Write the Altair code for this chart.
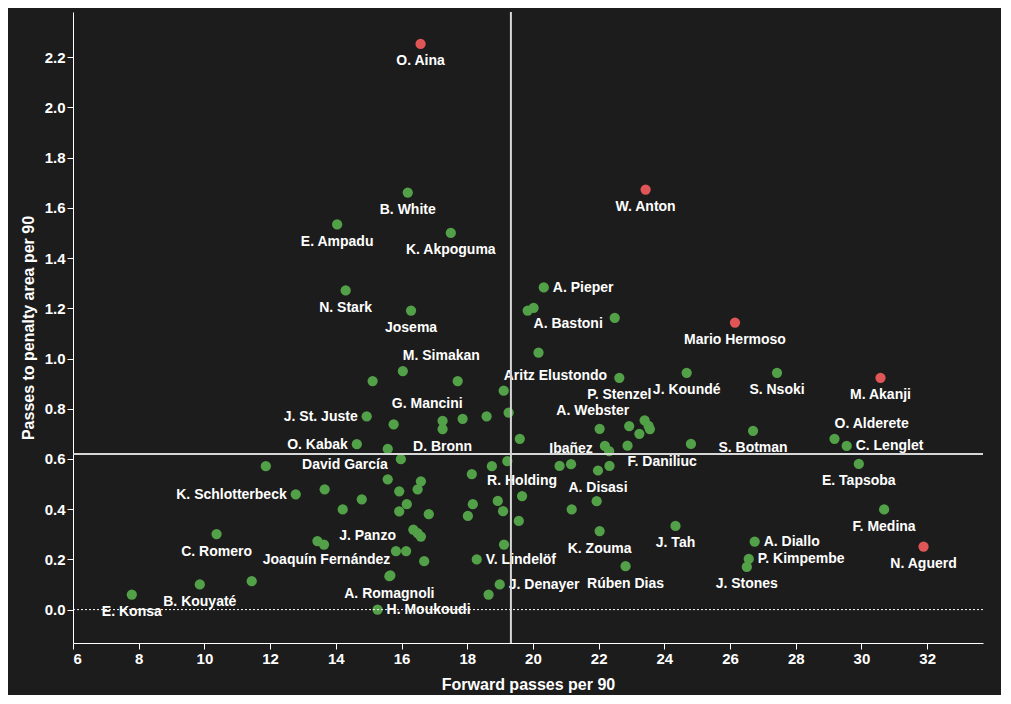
import altair as alt
import pandas as pd

# ---------------- data ----------------
players = [
    "O. Aina", "W. Anton", "Mario Hermoso", "M. Akanji", "N. Aguerd",
    "B. White", "E. Ampadu", "K. Akpoguma", "N. Stark", "Josema",
    "A. Pieper", "", "A. Bastoni", "", "",
    "M. Simakan", "", "", "Aritz Elustondo", "P. Stenzel",
    "J. Koundé", "S. Nsoki", "J. St. Juste", "", "",
    "D. Bronn", "G. Mancini", "", "", "",
    "O. Kabak", "David García", "", "", "K. Schlotterbeck",
    "", "", "", "", "",
    "", "", "", "", "",
    "", "", "", "", "",
    "", "", "R. Holding", "", "",
    "J. Denayer", "", "V. Lindelöf", "C. Romero", "",
    "", "", "", "", "J. Panzo",
    "", "", "B. Kouyaté", "", "E. Konsa",
    "A. Romagnoli", "Joaquín Fernández", "H. Moukoudi", "", "A. Webster",
    "", "", "", "", "F. Daniliuc",
    "", "", "", "", "Ibañez",
    "A. Disasi", "", "S. Botman", "O. Alderete", "C. Lenglet",
    "E. Tapsoba", "F. Medina", "K. Zouma", "J. Tah", "Rúben Dias",
    "A. Diallo", "P. Kimpembe", "J. Stones", "", "",
]

forward_passes = [
    16.58, 23.43, 26.15, 30.58, 31.89,
    16.19, 14.04, 17.50, 14.30, 16.29,
    20.33, 19.84, 20.02, 22.49, 20.17,
    16.04, 15.12, 17.71, 19.11, 22.63,
    24.68, 27.43, 14.94, 15.76, 17.25,
    17.25, 17.86, 18.59, 19.26, 19.60,
    14.64, 15.58, 15.98, 11.87, 12.78,
    13.66, 14.79, 14.21, 15.58, 15.93,
    16.59, 16.49, 16.16, 15.93, 16.83,
    18.14, 18.17, 18.02, 18.75, 18.93,
    19.09, 19.22, 19.67, 19.57, 19.12,
    18.99, 18.65, 18.29, 10.37, 13.44,
    13.64, 16.36, 16.49, 16.59, 15.83,
    16.14, 16.69, 9.86, 11.44, 7.79,
    15.63, 15.66, 15.27, 22.03, 22.93,
    23.40, 23.52, 23.56, 23.24, 22.88,
    24.81, 22.19, 22.32, 20.81, 21.16,
    21.98, 22.33, 26.70, 29.18, 29.55,
    29.92, 30.69, 22.03, 24.34, 22.82,
    26.75, 26.57, 26.51, 21.94, 21.18,
]

penalty_area_passes = [
    2.253, 1.673, 1.143, 0.923, 0.251,
    1.661, 1.534, 1.500, 1.271, 1.191,
    1.283, 1.191, 1.202, 1.162, 1.023,
    0.950, 0.910, 0.910, 0.872, 0.923,
    0.943, 0.943, 0.770, 0.738, 0.752,
    0.719, 0.760, 0.770, 0.784, 0.680,
    0.659, 0.640, 0.599, 0.571, 0.459,
    0.479, 0.439, 0.399, 0.519, 0.471,
    0.511, 0.479, 0.420, 0.391, 0.380,
    0.540, 0.420, 0.373, 0.571, 0.433,
    0.392, 0.591, 0.452, 0.353, 0.259,
    0.100, 0.060, 0.200, 0.301, 0.273,
    0.259, 0.319, 0.305, 0.291, 0.233,
    0.233, 0.193, 0.100, 0.113, 0.060,
    0.133, 0.136, 0.000, 0.720, 0.731,
    0.754, 0.732, 0.719, 0.700, 0.653,
    0.660, 0.652, 0.631, 0.572, 0.579,
    0.554, 0.572, 0.712, 0.680, 0.652,
    0.580, 0.399, 0.313, 0.333, 0.173,
    0.271, 0.202, 0.170, 0.432, 0.399,
]

groups = ["highlight"] * 5 + ["other"] * 95

label_position = [
    "bottom", "bottom", "bottom", "bottom", "bottom",
    "bottom", "bottom", "bottom", "bottom", "bottom",
    "right", "", "bottom-right", "", "",
    "top-right", "", "", "top-right", "bottom",
    "bottom", "bottom", "left", "", "",
    "bottom", "top-left", "", "", "",
    "left", "bottom-left", "", "", "left",
    "", "", "", "", "",
    "", "", "", "", "",
    "", "", "", "", "",
    "", "", "top", "", "",
    "right", "", "right", "bottom", "",
    "", "", "", "", "top-left",
    "", "", "bottom", "", "bottom",
    "bottom", "top-left", "right", "", "top-left",
    "", "", "", "", "bottom-right",
    "", "", "", "", "top",
    "bottom", "", "bottom", "top-right", "right",
    "bottom", "bottom", "bottom", "bottom", "bottom",
    "right", "right", "bottom", "", "",
]

mean_forward = [19.33]
mean_penalty = [0.62]
zero_line = [0.0]
x_ticks = [6, 8, 10, 12, 14, 16, 18, 20, 22, 24, 26, 28, 30, 32]
y_ticks = [0.0, 0.2, 0.4, 0.6, 0.8, 1.0, 1.2, 1.4, 1.6, 1.8, 2.0, 2.2]

# ---------------- styling ----------------
BG = "#1c1c1c"
GREEN = "#52a047"
RED = "#e05656"
WHITE = "#ffffff"
FONT = "Liberation Sans"

df = pd.DataFrame({
    "player": players,
    "fwd": forward_passes,
    "ppa": penalty_area_passes,
    "grp": groups,
    "pos": label_position,
})

x_scale = alt.Scale(domain=[6, 33.7], nice=False, zero=False)
y_scale = alt.Scale(domain=[-0.133, 2.38], nice=False, zero=False)

x_enc = alt.X("fwd:Q", scale=x_scale,
              axis=alt.Axis(values=x_ticks, title="Forward passes per 90",
                            format="d"))
y_enc = alt.Y("ppa:Q", scale=y_scale,
              axis=alt.Axis(values=y_ticks, format=".1f",
                            title="Passes to penalty area per 90"))

base = alt.Chart(df)

points = base.mark_circle(size=105, opacity=1).encode(
    x=x_enc,
    y=y_enc,
    color=alt.Color("grp:N",
                    scale=alt.Scale(domain=["highlight", "other"], range=[RED, GREEN]),
                    legend=None),
)

anchors = {
    "bottom": dict(align="center", dx=0, dy=17.5),
    "top": dict(align="center", dx=0, dy=-15.5),
    "left": dict(align="right", dx=-9, dy=0.5),
    "right": dict(align="left", dx=9, dy=0.5),
    "top-right": dict(align="left", dx=0, dy=-15),
    "top-left": dict(align="right", dx=0, dy=-15),
    "bottom-right": dict(align="left", dx=0, dy=16),
    "bottom-left": dict(align="right", dx=0, dy=16),
}

label_layers = []
for name, opts in anchors.items():
    label_layers.append(
        base.transform_filter(alt.datum.pos == name)
        .mark_text(font=FONT, fontSize=14, fontWeight="bold", color=WHITE,
                   baseline="middle", **opts)
        .encode(x="fwd:Q", y="ppa:Q", text="player:N")
    )

vline = alt.Chart(pd.DataFrame({"fwd": mean_forward})).mark_rule(
    color="#d6d6d6", strokeWidth=2).encode(x="fwd:Q")
hline = alt.Chart(pd.DataFrame({"ppa": mean_penalty})).mark_rule(
    color="#d6d6d6", strokeWidth=2).encode(y="ppa:Q")
zline = alt.Chart(pd.DataFrame({"ppa": zero_line})).mark_rule(
    color=WHITE, strokeWidth=1, strokeDash=[2, 2]).encode(y="ppa:Q")

chart = alt.layer(points, *label_layers, zline, vline, hline).properties(
    width=910,
    height=631,
    background=BG,
    padding={"left": 65, "top": 4, "right": 18, "bottom": 52},
    autosize=alt.AutoSizeParams(type="none"),
).configure_view(
    stroke=None,
).configure_axis(
    grid=False,
    domainColor=WHITE,
    tickColor=WHITE,
    labelColor=WHITE,
    titleColor=WHITE,
    labelFont=FONT,
    titleFont=FONT,
    labelFontSize=15,
    labelFontWeight="bold",
    titleFontSize=16,
    titleFontWeight="bold",
    tickSize=6,
    labelPadding=2,
).configure_axisX(
    titlePadding=10,
).configure_axisY(
    titlePadding=8,
)

chart.save("out.html", embed_options={"renderer": "svg", "actions": False})
